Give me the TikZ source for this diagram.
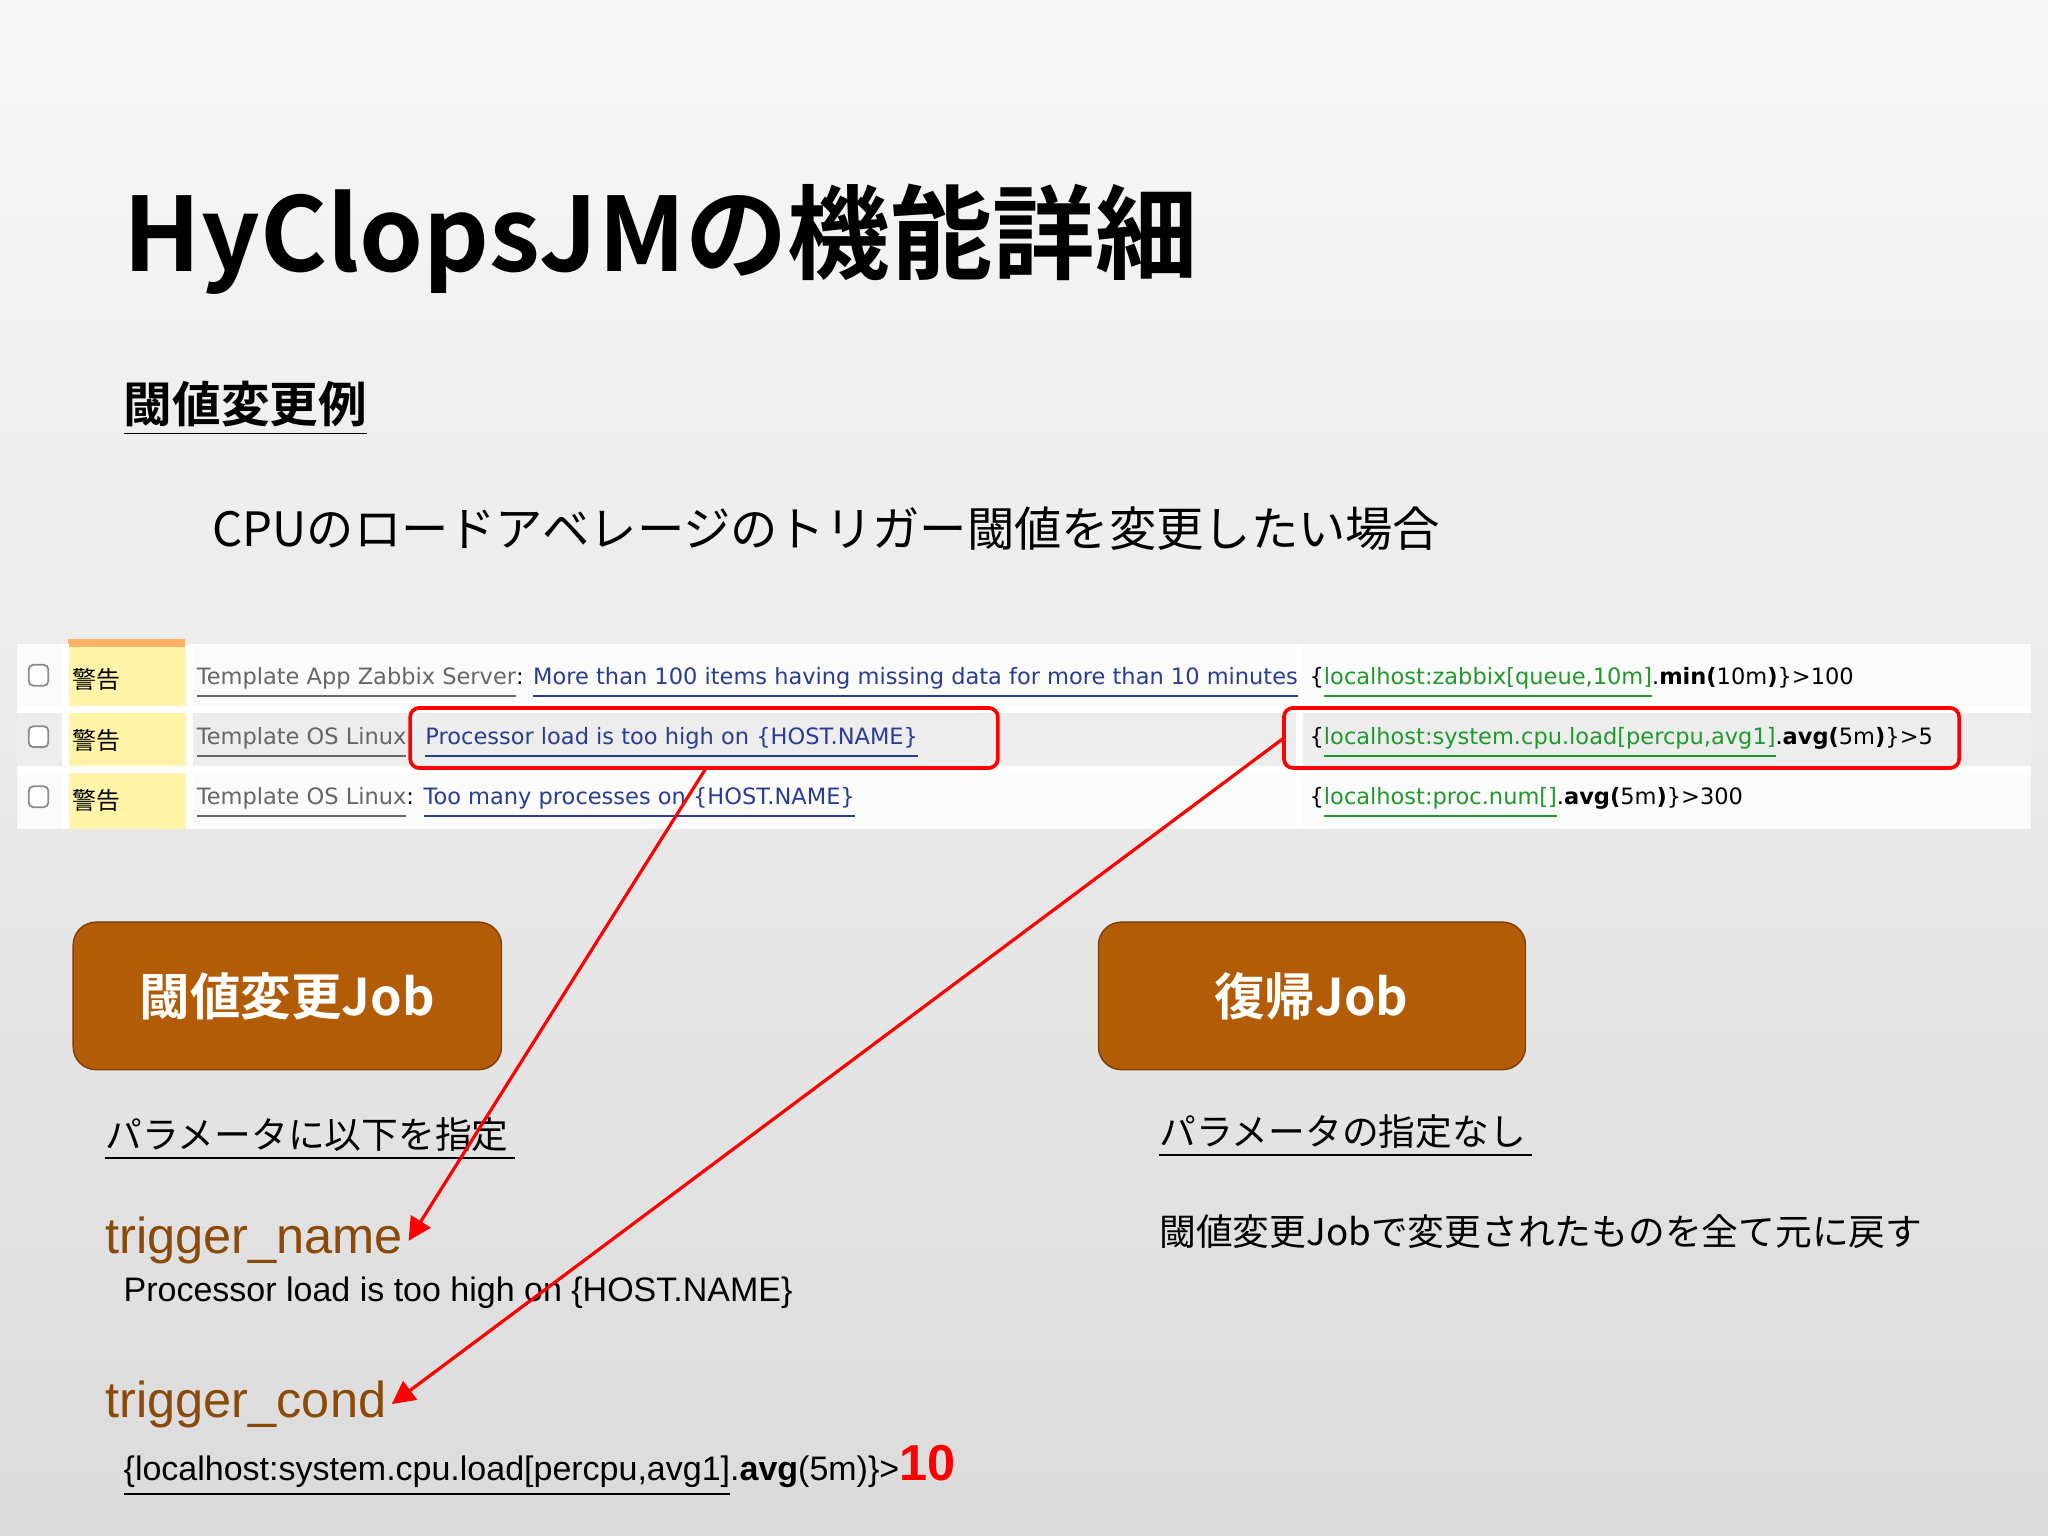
\documentclass[tikz,border=0pt]{standalone}
\usepackage{fontspec}
\setmainfont{Liberation Sans}
\newfontfamily\jp{Noto Sans CJK JP}[BoldFont={* Bold}]
\newfontfamily\dv{DejaVu Sans}
\newfontfamily\dvjp{Noto Sans CJK JP}
\usetikzlibrary{arrows.meta}
\definecolor{lgray}{HTML}{666666}
\definecolor{lblue}{HTML}{2B3C93}
\definecolor{lgreen}{HTML}{1E9A2A}
\definecolor{btn}{HTML}{B35C08}
\definecolor{brn}{HTML}{8A4A0A}
\definecolor{sev}{HTML}{FFF4A8}
\tikzset{
  lbl/.style={anchor=west,inner sep=0pt},
  tbl/.style={lbl,font=\dv\fontsize{4.9pt}{5pt}\selectfont},
  btnbox/.style={fill=btn,rounded corners=5pt,draw=btn!70!black,line width=0.3pt},
  redbox/.style={draw=red,line width=0.8pt,rounded corners=2pt},
  redarrow/.style={draw=red,line width=0.7pt,-{Triangle[length=5pt,width=5pt]}}
}
\newcommand{\ul}[1]{\underline{#1}}
\begin{document}
\begin{tikzpicture}[x=0.01cm,y=-0.01cm]
\useasboundingbox (0,0) rectangle (1568,1176);
\shade[top color=white!94!gray, bottom color=black!14] (0,0) rectangle (1568,1176);
% title
\node[lbl,font=\jp\bfseries\fontsize{22.3pt}{23pt}\selectfont] (title) at (94,183) {HyClopsJMの機能詳細};
\node[lbl,font=\jp\bfseries\fontsize{10.6pt}{11pt}\selectfont] (sub) at (94,313) {\ul{閾値変更例}};
\node[lbl,font=\jp\fontsize{10.3pt}{11pt}\selectfont] (desc) at (162,405) {CPUのロードアベレージのトリガー閾値を変更したい場合};
% table
\fill[white!97!gray] (13,493) rectangle (1555,635);
\fill[black!7] (13,543) rectangle (1555,589);
\fill[sev] (50,493) rectangle (145,635);
\fill[orange!60] (52,489) rectangle (142,495);
\draw[white,line width=1.5pt] (13,543) -- (1555,543) (13,589) -- (1555,589) (50,493)--(50,635) (145,493)--(145,635) (995,493)--(995,635);
\foreach \y/\n in {518/a,565/b,611/c}{
  \draw[black!45,fill=white,rounded corners=1pt] (22,\y-9) rectangle (37,\y+7);
  \node[lbl,font=\dvjp\fontsize{5.2pt}{5pt}\selectfont] (sev\n) at (55,\y+2) {警告};
}
\node[tbl] (d1) at (150,523) {\textcolor{lgray}{\ul{Template App Zabbix Server}}: \textcolor{lblue}{\ul{More than 100 items having missing data for more than 10 minutes}}};
\node[tbl] (d2a) at (150,569) {\textcolor{lgray}{\ul{Template OS Linux}}:};
\node[tbl] (d2b) at (325,569) {\textcolor{lblue}{\ul{Processor load is too high on \{HOST.NAME\}}}};
\node[tbl] (d3) at (150,615) {\textcolor{lgray}{\ul{Template OS Linux}}: \textcolor{lblue}{\ul{Too many processes on \{HOST.NAME\}}}};
\node[tbl] (e1) at (1002,523) {\{\textcolor{lgreen}{\ul{localhost:zabbix[queue,10m]}}.\textbf{min(}10m\textbf{)}\}>100};
\node[tbl] (e2) at (1002,569) {\{\textcolor{lgreen}{\ul{localhost:system.cpu.load[percpu,avg1]}}.\textbf{avg(}5m\textbf{)}\}>5};
\node[tbl] (e3) at (1002,615) {\{\textcolor{lgreen}{\ul{localhost:proc.num[]}}.\textbf{avg(}5m\textbf{)}\}>300};
\draw[redbox] (314,542) rectangle (764,588);
\draw[redbox] (983,542) rectangle (1500,588);
% buttons
\draw[btnbox] (56,706) rectangle (384,819);
\node[font=\jp\bfseries\fontsize{11pt}{11pt}\selectfont,text=white] (job1) at (220,763) {閾値変更Job};
\draw[btnbox] (841,706) rectangle (1168,819);
\node[font=\jp\bfseries\fontsize{11pt}{11pt}\selectfont,text=white] (job2) at (1004,763) {復帰Job};
% left text
\node[lbl,font=\jp\fontsize{8pt}{8pt}\selectfont] (p1) at (80,872) {\ul{パラメータに以下を指定\,}};
\node[lbl,font=\fontsize{11pt}{11pt}\selectfont,text=brn] (tn) at (80,950) {trigger\_name};
\node[lbl,font=\fontsize{7.4pt}{7pt}\selectfont] (tnv) at (94,990) {Processor load is too high on \{HOST.NAME\}};
\node[lbl,font=\fontsize{11pt}{11pt}\selectfont,text=brn] (tc) at (80,1075) {trigger\_cond};
\node[lbl,font=\fontsize{7.4pt}{7pt}\selectfont] (tcv) at (94,1126) {\ul{\{localhost:system.cpu.load[percpu,avg1]}.\textbf{avg}(5m)\}>\textcolor{red}{\textbf{\fontsize{11pt}{11pt}\selectfont 10}}};
% right text
\node[lbl,font=\jp\fontsize{8pt}{8pt}\selectfont] (p2) at (887,870) {\ul{パラメータの指定なし\,}};
\node[lbl,font=\jp\fontsize{8pt}{8pt}\selectfont] (p3) at (887,943) {閾値変更Jobで変更されたものを全て元に戻す};
% arrows
\coordinate (s1) at (540,589);
\coordinate (s2) at (983,565);
\draw[redarrow] (s1) -- ([xshift=1pt]tn.east);
\draw[redarrow] (s2) -- ([xshift=1pt]tc.east);
\end{tikzpicture}
\end{document}
